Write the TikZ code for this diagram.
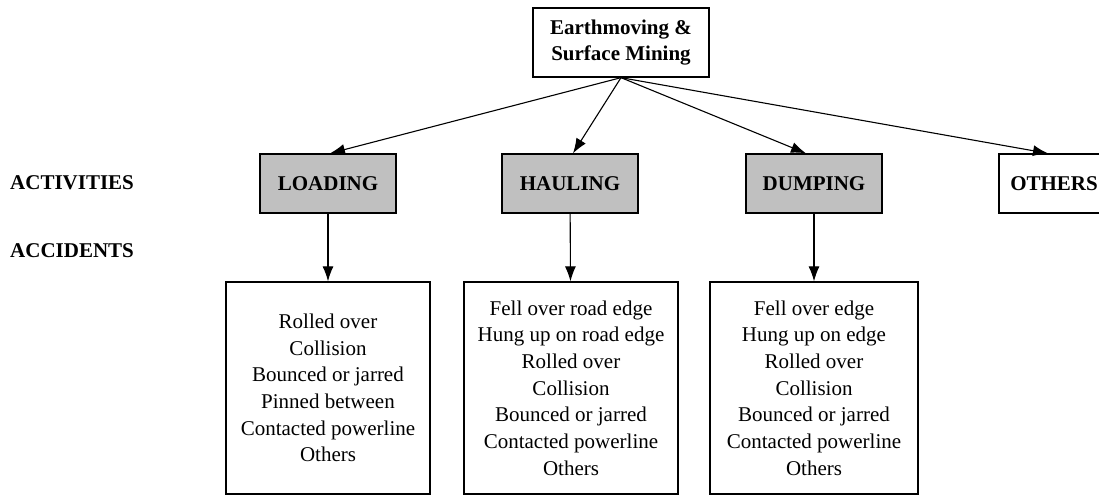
\documentclass[tikz,border=0pt]{standalone}
\usepackage{fontspec}
\setmainfont{Liberation Serif}
\usetikzlibrary{arrows.meta}
\definecolor{actgray}{HTML}{C0C0C0}
\newcommand{\diagfont}{\fontsize{21}{26.7}\selectfont}
\tikzset{
  box/.style={draw,line width=1.3pt,inner sep=0pt,align=center},
  actbox/.style={box,fill=actgray,font=\diagfont\bfseries,minimum width=136pt,minimum height=59pt},
  accbox/.style={box,minimum height=212pt},
  rowlabel/.style={anchor=west,font=\diagfont\bfseries,inner sep=0pt}
}
\begin{document}
\begin{tikzpicture}[x=1pt,y=-1pt,font=\diagfont]
      \useasboundingbox (0,0) rectangle (1099,495);
      \draw
        (621,42.5) node[box,font=\diagfont\bfseries,minimum width=176pt,minimum height=69pt] (root){Earthmoving \&\\Surface Mining}
        (328,183.5) node[actbox] (load){LOADING}
        (570,183.5) node[actbox] (haul){HAULING}
        (814,183.5) node[actbox] (dump){DUMPING}
        (1054,183.5) node[actbox,fill=white,minimum width=110pt] (other){OTHERS}
        (10,183) node[rowlabel] (activities){ACTIVITIES}
        (10,251) node[rowlabel] (accidents){ACCIDENTS}
        (328,388) node[accbox,minimum width=204pt] (accload){Rolled over\\Collision\\Bounced or jarred\\Pinned between\\Contacted powerline\\Others}
        (571,388) node[accbox,minimum width=214pt] (acchaul){Fell over road edge\\Hung up on road edge\\Rolled over\\Collision\\Bounced or jarred\\Contacted powerline\\Others}
        (814,388) node[accbox,minimum width=208pt] (accdump){Fell over edge\\Hung up on edge\\Rolled over\\Collision\\Bounced or jarred\\Contacted powerline\\Others};
      \begin{scope}[line width=1.1pt,-{Latex[length=15pt,width=11pt]}]
        \draw (root.south) to ([xshift=2pt]load.north);
        \draw (root.south) to ([xshift=3pt]haul.north);
        \draw (root.south) to ([xshift=-8pt]dump.north);
        \draw (root.south) to ([xshift=-6pt]other.north);
        \draw (load) to (accload);
        \draw (haul) to (acchaul);
        \draw (dump) to (accdump);
      \end{scope}
    \end{tikzpicture}
\end{document}
